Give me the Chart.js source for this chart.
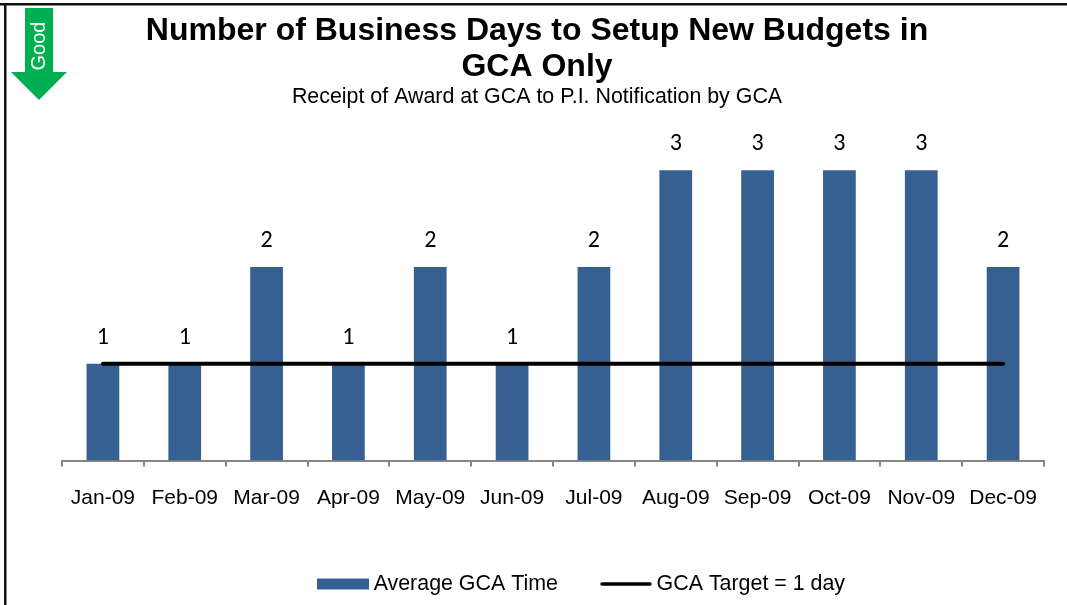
<!DOCTYPE html>
<html>
<head>
<meta charset="utf-8">
<script src="https://cdn.jsdelivr.net/npm/chart.js@4"></script>
<style>
html,body{margin:0;padding:0;background:#fff;overflow:hidden}
#wrap{position:relative;width:1067px;height:605px}
</style>
</head>
<body>
<div id="wrap"><canvas id="c" width="1067" height="605"></canvas></div>
<script>
const categories = ["Jan-09","Feb-09","Mar-09","Apr-09","May-09","Jun-09","Jul-09","Aug-09","Sep-09","Oct-09","Nov-09","Dec-09"];
const averageGcaTime = [1,1,2,1,2,1,2,3,3,3,3,2];
const gcaTarget = [1,1,1,1,1,1,1,1,1,1,1,1];
const titleLines = ["Number of Business Days to Setup New Budgets in","GCA Only"];
const subtitleText = "Receipt of Award at GCA to P.I. Notification by GCA";
const seriesNames = ["Average GCA Time","GCA Target = 1 day"];
const BAR = "#366092", GREEN = "#00B050", AXIS = "#868686";
const SANS = "'Liberation Sans', Arial, sans-serif";

function swatch(kind){
  const s = document.createElement('canvas'); s.width = 52; s.height = 12;
  const x = s.getContext('2d');
  if(kind === 'bar'){ x.fillStyle = BAR; x.fillRect(0,0.5,52,11); }
  else { x.strokeStyle = '#000'; x.lineWidth = 3.5; x.lineCap='round'; x.beginPath(); x.moveTo(2,6); x.lineTo(50,6); x.stroke(); }
  return s;
}
const swatches = [swatch('bar'), swatch('line')];

const decor = {
  id:'decor',
  afterLayout(chart){
    const l = chart.legend;
    l.left += 47; l.right += 47;
    const dy = 565 - (l.top + l.height/2);
    l.top += dy; l.bottom += dy;
  },
  beforeDraw(chart){
    const x = chart.ctx;
    x.save();
    x.fillStyle = '#fff'; x.fillRect(0,0,chart.width,chart.height);
    x.fillStyle = '#111';
    x.fillRect(0,3,chart.width,2.5);
    x.fillRect(4,3,2.5,chart.height-3);
    x.fillStyle = GREEN;
    x.beginPath();
    x.moveTo(25,8);x.lineTo(53,8);x.lineTo(53,72);x.lineTo(67,72);x.lineTo(39,100);x.lineTo(11,72);x.lineTo(25,72);
    x.closePath();x.fill();
    x.translate(39,46);x.rotate(-Math.PI/2);
    x.fillStyle='#fff';x.font="20px "+SANS;x.textAlign='center';x.textBaseline='middle';
    x.fillText('Good',0,0);
    x.restore();
  },
  afterDatasetsDraw(chart){
    const x = chart.ctx, m = chart.getDatasetMeta(0);
    x.save();
    x.fillStyle='#000';x.font="24px Carlito, Lato, sans-serif";x.textAlign='center';x.textBaseline='middle';
    m.data.forEach((b,i)=>x.fillText(String(averageGcaTime[i]),b.x,b.y-26));
    x.restore();
  }
};

new Chart(document.getElementById('c'),{
  data:{
    labels:categories,
    datasets:[
      {type:'bar',label:seriesNames[0],data:averageGcaTime,backgroundColor:BAR,barPercentage:0.4,categoryPercentage:1,order:2},
      {type:'line',label:seriesNames[1],data:gcaTarget,borderColor:'#000',borderWidth:4,pointRadius:0,borderCapStyle:'round',tension:0,order:1}
    ]
  },
  options:{
    responsive:false,animation:false,
    layout:{padding:{left:30,right:23,top:9,bottom:15}},
    scales:{
      x:{
        offset:true,
        afterFit(s){s.height=50;},
        border:{color:AXIS,width:2},
        grid:{display:true,drawOnChartArea:false,drawTicks:true,tickLength:6,color:AXIS,lineWidth:2,offset:true},
        ticks:{color:'#000',font:{family:SANS,size:21},padding:19,maxRotation:0,autoSkip:false}
      },
      y:{
        min:0,max:3.5,
        afterFit(s){s.width=32;},
        border:{display:false},
        grid:{display:false},
        ticks:{display:false}
      }
    },
    plugins:{
      title:{display:true,text:titleLines,color:'#000',font:{family:SANS,size:32,weight:'bold',lineHeight:1.125},padding:{top:4,bottom:-1}},
      subtitle:{display:true,text:subtitleText,color:'#000',font:{family:SANS,size:21.4,lineHeight:1.2},padding:{top:0,bottom:12.2}},
      tooltip:{enabled:false},
      legend:{
        position:'bottom',
        labels:{
          color:'#000',font:{family:SANS,size:21.4},padding:48,usePointStyle:true,pointStyleWidth:40,boxHeight:12,
          generateLabels(){
            return seriesNames.map((n,i)=>({text:n,pointStyle:swatches[i],datasetIndex:i,fontColor:'#000',hidden:false,lineWidth:0,strokeStyle:'transparent',fillStyle:'transparent'}));
          }
        }
      }
    }
  },
  plugins:[decor]
});
</script>
</body>
</html>
